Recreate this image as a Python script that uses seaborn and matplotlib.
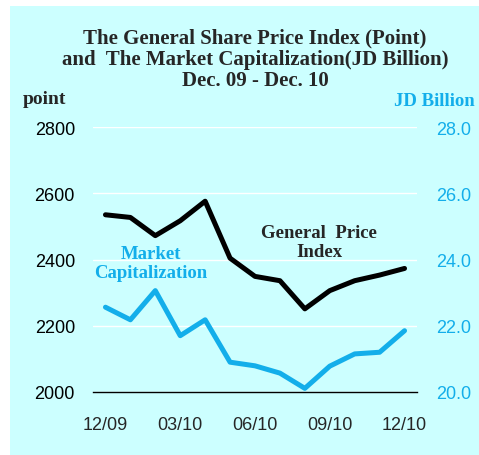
import pandas as pd
import matplotlib.pyplot as plt
import seaborn as sns
from matplotlib.patches import Rectangle

# Data (Dec 09 - Dec 10, monthly)
months = ['12/09', '01/10', '02/10', '03/10', '04/10', '05/10', '06/10',
          '07/10', '08/10', '09/10', '10/10', '11/10', '12/10']
price_index = [2535, 2527, 2472, 2517, 2576, 2404, 2349, 2336, 2251, 2306, 2336, 2353, 2373]
market_cap = [22.56, 22.18, 23.06, 21.70, 22.18, 20.90, 20.79, 20.57, 20.11, 20.78, 21.15, 21.20, 21.85]
shown_labels = ['12/09', '03/10', '06/10', '09/10', '12/10']

BG = '#ccffff'
CYAN = '#13aeea'

sns.set_style('white')
plt.rcParams['font.family'] = ['Liberation Sans', 'DejaVu Sans']

df = pd.DataFrame({'pos': range(len(months)), 'month': months,
                   'index': price_index, 'cap': market_cap})

fig = plt.figure(figsize=(4.79, 4.56), dpi=100)
fig.patch.set_facecolor('white')
fig.patches.append(Rectangle((10 / 479, 0), 1 - 10 / 479, 1 - 7 / 456,
                             transform=fig.transFigure, facecolor=BG,
                             edgecolor='none', zorder=-10))

ax = fig.add_axes([93 / 479, 1 - 393 / 456, 324 / 479, 265 / 456])
ax.set_facecolor(BG)
ax.patch.set_alpha(0)
ax2 = ax.twinx()

sns.lineplot(data=df, x='pos', y='index', ax=ax, color='black', linewidth=3.6)
sns.lineplot(data=df, x='pos', y='cap', ax=ax2, color=CYAN, linewidth=3.6)

ax.set_xlim(-0.5, len(months) - 0.5)
ax.set_ylim(2000, 2800)
ax2.set_ylim(20, 28)
ax.set_yticks([2000, 2200, 2400, 2600, 2800])
ax2.set_yticks([20, 22, 24, 26, 28])
ax2.set_yticklabels([f'{v:.1f}' for v in [20, 22, 24, 26, 28]])

ax.set_xticks([months.index(m) for m in shown_labels])
ax.set_xticklabels(shown_labels)
ax.set_xticks([i - 0.5 for i in range(len(months) + 1)], minor=True)

ax.tick_params(axis='x', which='major', length=0, pad=17, labelsize=13)
ax.tick_params(axis='x', which='minor', length=6, width=1, color='black', direction='out')
ax.tick_params(axis='y', length=0, pad=13, labelsize=13, labelcolor='black')
ax2.tick_params(axis='y', length=0, pad=14, labelsize=13, labelcolor=CYAN)

ax.grid(axis='y', color='white', linewidth=1)
ax.set_axisbelow(True)
ax.set_xlabel('')
ax.set_ylabel('')
ax2.set_ylabel('')

for a in (ax, ax2):
    for side in ('left', 'right', 'top'):
        a.spines[side].set_visible(False)
ax2.spines['bottom'].set_visible(False)
ax.spines['bottom'].set_color('black')
ax.spines['bottom'].set_linewidth(1)

serif = ['Liberation Serif', 'DejaVu Serif']
fig.text(255 / 479, 1 - 60 / 456,
         'The General Share Price Index (Point)\nand  The Market Capitalization(JD Billion)\nDec. 09 - Dec. 10',
         ha='center', va='center', fontsize=15, fontweight='bold', family=serif,
         linespacing=1.1)
fig.text(23 / 479, 1 - 100 / 456, 'point', ha='left', va='center',
         fontsize=14, fontweight='bold', family=serif)
fig.text(475 / 479, 1 - 102 / 456, 'JD Billion', ha='right', va='center',
         fontsize=13.5, fontweight='bold', family=serif, color=CYAN)
fig.text(319 / 479, 1 - 243 / 456, 'General  Price\nIndex', ha='center', va='center',
         fontsize=13.5, fontweight='bold', family=serif)
fig.text(151 / 479, 1 - 264 / 456, 'Market\nCapitalization', ha='center', va='center',
         fontsize=13.5, fontweight='bold', family=serif, color=CYAN)

fig.savefig('out.png', dpi=100)
